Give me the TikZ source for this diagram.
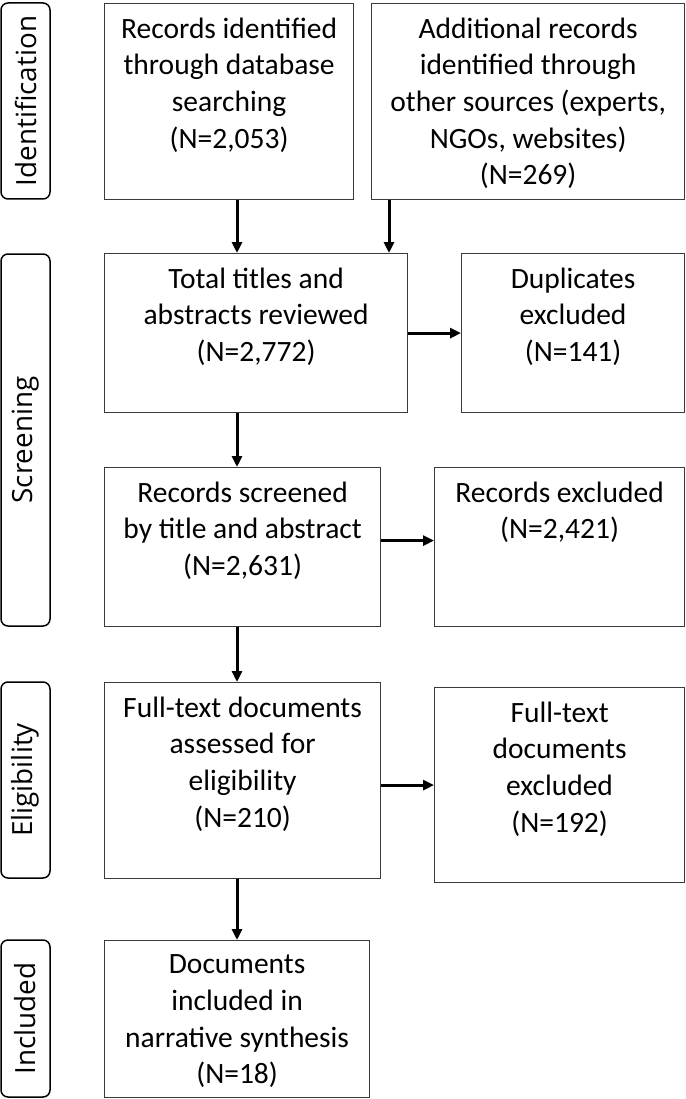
\documentclass[tikz,border=0pt]{standalone}
\usepackage{fontspec}
\setmainfont{Carlito}
\newfontfamily\phasefont{Open Sans}
\usepackage{tikz}
\usetikzlibrary{arrows.meta}
\definecolor{myboxcolor}{HTML}{3a3a3a}
\tikzset{
  mybox/.style={draw=myboxcolor, line width=1.2pt, fill=white, rectangle, anchor=north west},
  mytext/.style={anchor=north, align=center, inner sep=0pt, yshift=-14.5pt, font=\fontsize{29.5pt}{36.7pt}\selectfont},
  myphase/.style={draw, line width=1.5pt, rounded corners=7pt, rotate=90, minimum height=49pt, inner sep=0pt, font=\phasefont\fontsize{27.8pt}{32pt}\selectfont},
  myarrow/.style={line width=3pt, -{Triangle[length=11pt, width=10pt]}}
}

\begin{document}
\begin{tikzpicture}[x=1pt, y=-1pt]%
\useasboundingbox (0, 0) rectangle (685, 1099);%
\node[myphase, minimum width=196pt] (ident) at (25.5, 101) {Identification};%
\node[myphase, minimum width=372pt] (screen) at (25.5, 440) {Screening};%
\node[myphase, minimum width=196pt] (elig) at (25.5, 780) {Eligibility};%
\node[myphase, minimum width=157pt] (inclphase) at (25.5, 1018.5) {Included};%
\node[mybox, minimum width=249pt, minimum height=196pt, label={[mytext]north:{Records identified\\through database\\searching\\(N=2,053)}}] (dbase) at (104, 3) {};%
\node[mybox, minimum width=313pt, minimum height=196pt, label={[mytext]north:{Additional records\\identified through\\other sources (experts,\\NGOs, websites)\\(N=269)}}] (other) at (371, 3) {};%
\node[mybox, minimum width=303pt, minimum height=159pt, label={[mytext]north:{Total titles and\\abstracts reviewed\\(N=2,772)}}] (total) at (104, 253) {};%
\node[mybox, minimum width=223pt, minimum height=159pt, label={[mytext]north:{Duplicates\\excluded\\(N=141)}}] (dupl) at (461, 253) {};%
\node[mybox, minimum width=276pt, minimum height=159pt, label={[mytext]north:{Records screened\\by title and abstract\\(N=2,631)}}] (screened) at (104, 467) {};%
\node[mybox, minimum width=250pt, minimum height=159pt, label={[mytext]north:{Records excluded\\(N=2,421)}}] (recexcl) at (434, 467) {};%
\node[mybox, minimum width=276pt, minimum height=196pt, label={[mytext]north:{Full-text documents\\assessed for\\eligibility\\(N=210)}}] (fulltext) at (104, 682) {};%
\node[mybox, minimum width=250pt, minimum height=195pt, label={[mytext]north:{Full-text\\documents\\excluded\\(N=192)}}] (ftexcl) at (434, 687) {};%
\node[mybox, minimum width=265pt, minimum height=157pt, label={[mytext]north:{Documents\\included in\\narrative synthesis\\(N=18)}}] (incl) at (104, 940) {};%
\coordinate (mycol) at (237, 0);%
\coordinate (mycol2) at (389, 0);%
\draw[myarrow] (dbase.south -| mycol) -- (total.north -| mycol);%
\draw[myarrow] (other.south -| mycol2) -- (total.north -| mycol2);%
\draw[myarrow] (total.east) -- (dupl.west);%
\draw[myarrow] (total.south -| mycol) -- (screened.north -| mycol);%
\draw[myarrow] ([yshift=6.5pt]screened.east) -- ([yshift=6.5pt]screened.east -| recexcl.west);%
\draw[myarrow] (screened.south -| mycol) -- (fulltext.north -| mycol);%
\draw[myarrow] (fulltext.east |- ftexcl.west) -- (ftexcl.west);%
\draw[myarrow] (fulltext.south -| mycol) -- (incl.north -| mycol);%
\end{tikzpicture}
\end{document}
